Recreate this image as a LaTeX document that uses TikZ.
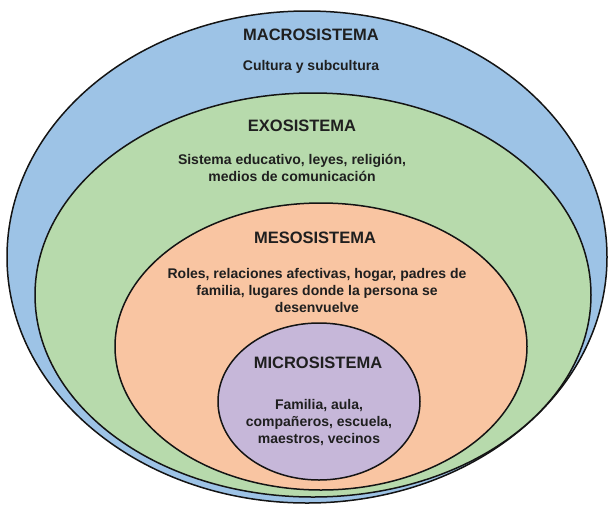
\documentclass[tikz,border=0pt]{standalone}
\usepackage{fontspec}
\setmainfont{Liberation Sans}
\usepackage{tikz}

\definecolor{macrocol}{RGB}{157,195,230}
\definecolor{exocol}{RGB}{183,218,172}
\definecolor{mesocol}{RGB}{249,197,162}
\definecolor{microcol}{RGB}{198,183,217}

\begin{document}
\begin{tikzpicture}
  [x=1pt,y=-1pt,every node/.style={font=\bfseries\fontsize{14}{17}\selectfont,text=black!88,align=center}]

  \tikzstyle{title} = [font=\bfseries\fontsize{16.5}{20}\selectfont]
  \tikzstyle{ring}  = [draw=black!92,line width=1.5pt]

  \useasboundingbox (0,0) rectangle (613,507);

  \path[ring,fill=macrocol] (307,257)   ellipse [x radius=300,y radius=246];
  \path[ring,fill=exocol]   (313,295)   ellipse [x radius=278,y radius=202];
  \path[ring,fill=mesocol]  (321,346.5) ellipse [x radius=206,y radius=143.5];
  \path[ring,fill=microcol] (319,401.5) ellipse [x radius=101,y radius=78.5];

  \node[title] (macro)     at (311,35)  {MACROSISTEMA};
  \node        (macrotext) at (311,67)  {Cultura y subcultura};
  \node[title] (exo)       at (302,126) {EXOSISTEMA};
  \node        (exotext)   at (292,168) {Sistema educativo, leyes, religión,\\medios de comunicación};
  \node[title] (meso)      at (315,238) {MESOSISTEMA};
  \node        (mesotext)  at (317,290) {Roles, relaciones afectivas, hogar, padres de\\familia, lugares donde la persona se\\desenvuelve};
  \node[title] (micro)     at (318,363) {MICROSISTEMA};
  \node        (microtext) at (319,423) {Familia, aula,\\compañeros, escuela,\\maestros, vecinos};
\end{tikzpicture}
\end{document}
